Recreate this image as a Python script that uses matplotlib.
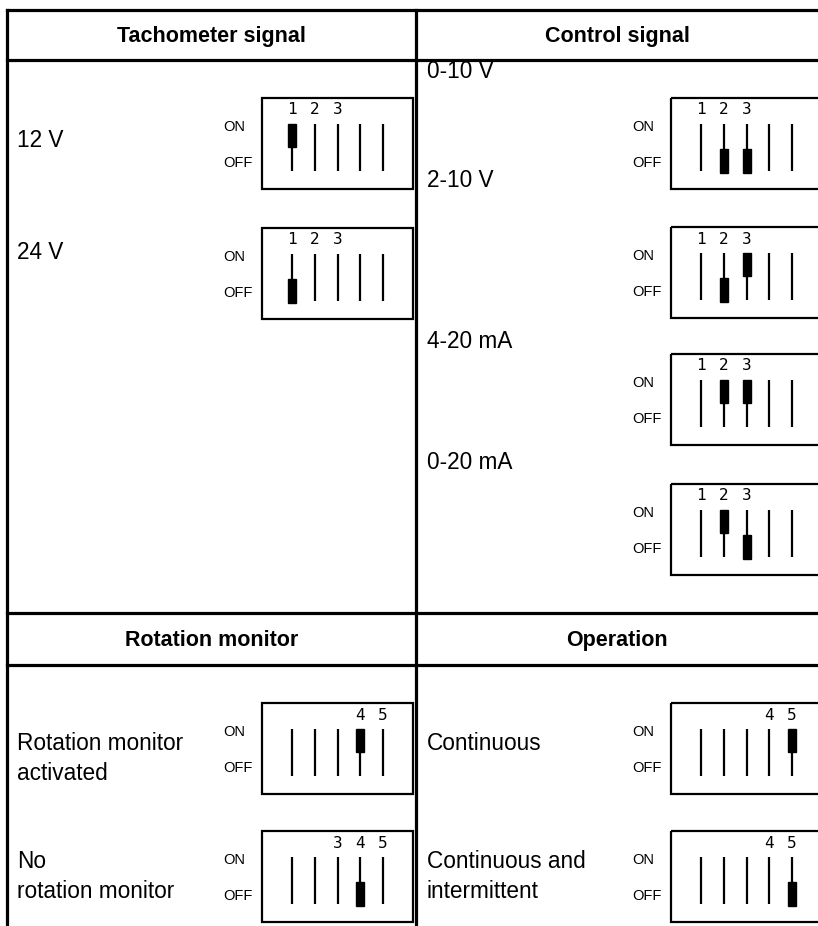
import matplotlib.pyplot as plt
from matplotlib.patches import Rectangle

# Section headers
headers_top = ["Tachometer signal", "Control signal"]
headers_bottom = ["Rotation monitor", "Operation"]

# Tachometer signal settings (switch states 1..5)
tacho_labels = ["12 V", "24 V"]
tacho_states = [["on", "", "", "", ""],
                ["off", "", "", "", ""]]
tacho_numbers = [[1, 2, 3], [1, 2, 3]]

# Control signal settings
ctrl_labels = ["0-10 V", "2-10 V", "4-20 mA", "0-20 mA"]
ctrl_states = [["", "off", "off", "", ""],
               ["", "off", "on", "", ""],
               ["", "on", "on", "", ""],
               ["", "on", "off", "", ""]]
ctrl_numbers = [[1, 2, 3]] * 4

# Rotation monitor settings
rot_labels = ["Rotation monitor\nactivated", "No\nrotation monitor"]
rot_states = [["", "", "", "on", ""],
              ["", "", "", "off", ""]]
rot_numbers = [[4, 5], [3, 4, 5]]

# Operation settings
op_labels = ["Continuous", "Continuous and\nintermittent"]
op_states = [["", "", "", "", "on"],
             ["", "", "", "", "off"]]
op_numbers = [[4, 5], [4, 5]]

W, H = 818, 926
fig = plt.figure(figsize=(W / 100, H / 100), dpi=100)
ax = fig.add_axes([0, 0, 1, 1])
ax.set_xlim(0, W)
ax.set_ylim(H, 0)
ax.axis("off")

body_font = ["Liberation Sans", "DejaVu Sans"]
frame_lw = 2.3


def draw_switchbox(bx, bt, states, numbers):
    # box outline
    ax.add_patch(Rectangle((bx, bt), 151, 91, fill=False, lw=1.6, ec="black"))
    ax.text(bx - 39, bt + 29, "ON", fontsize=10.5, family=body_font, va="center", ha="left")
    ax.text(bx - 39, bt + 65, "OFF", fontsize=10.5, family=body_font, va="center", ha="left")
    xs = [bx + 30 + i * 22.75 for i in range(5)]
    for x, s in zip(xs, states):
        ax.plot([x, x], [bt + 26, bt + 73], color="black", lw=1.6, solid_capstyle="butt")
        if s == "on":
            ax.add_patch(Rectangle((x - 4, bt + 26), 8, 23, color="black"))
        elif s == "off":
            ax.add_patch(Rectangle((x - 4, bt + 51), 8, 24, color="black"))
    for n in numbers:
        ax.text(xs[n - 1], bt + 12, str(n), fontsize=11.5, family="DejaVu Sans Mono",
                ha="center", va="center")


def draw_label(x, y, text):
    for k, line in enumerate(text.split("\n")):
        ax.text(x, y + 7 + k * 30, line, fontsize=16.3, family=body_font,
                va="baseline", ha="left")


# frame
ax.plot([7, W], [10, 10], color="black", lw=frame_lw)
ax.plot([7, W], [60, 60], color="black", lw=frame_lw)
ax.plot([7, W], [613, 613], color="black", lw=frame_lw)
ax.plot([7, W], [665, 665], color="black", lw=frame_lw)
ax.plot([7, 7], [10, H], color="black", lw=frame_lw)
ax.plot([416, 416], [10, H], color="black", lw=frame_lw)

hfont = ["Liberation Sans", "DejaVu Sans"]
for cx, t in zip([211.5, 617], headers_top):
    ax.text(cx, 42, t, fontsize=15.5, fontweight="bold", family=hfont, ha="center", va="baseline")
for cx, t in zip([211.5, 617], headers_bottom):
    ax.text(cx, 646, t, fontsize=15.5, fontweight="bold", family=hfont, ha="center", va="baseline")

# tachometer
tacho_box_top = [98, 228]
tacho_label_y = [140, 252]
for lab, st, nums, bt, ly in zip(tacho_labels, tacho_states, tacho_numbers, tacho_box_top, tacho_label_y):
    draw_label(17, ly, lab)
    draw_switchbox(262, bt, st, nums)

# control
ctrl_box_top = [98, 227, 354, 484]
ctrl_label_y = [71, 180, 341, 462]
for lab, st, nums, bt, ly in zip(ctrl_labels, ctrl_states, ctrl_numbers, ctrl_box_top, ctrl_label_y):
    draw_label(427, ly, lab)
    draw_switchbox(671, bt, st, nums)

# rotation monitor / operation
bottom_box_top = [703, 831]
bottom_label_y = [743, 861]
for lab, st, nums, bt, ly in zip(rot_labels, rot_states, rot_numbers, bottom_box_top, bottom_label_y):
    draw_label(17, ly, lab)
    draw_switchbox(262, bt, st, nums)
for lab, st, nums, bt, ly in zip(op_labels, op_states, op_numbers, bottom_box_top, bottom_label_y):
    draw_label(427, ly, lab)
    draw_switchbox(671, bt, st, nums)

fig.savefig("out.png", dpi=100)
